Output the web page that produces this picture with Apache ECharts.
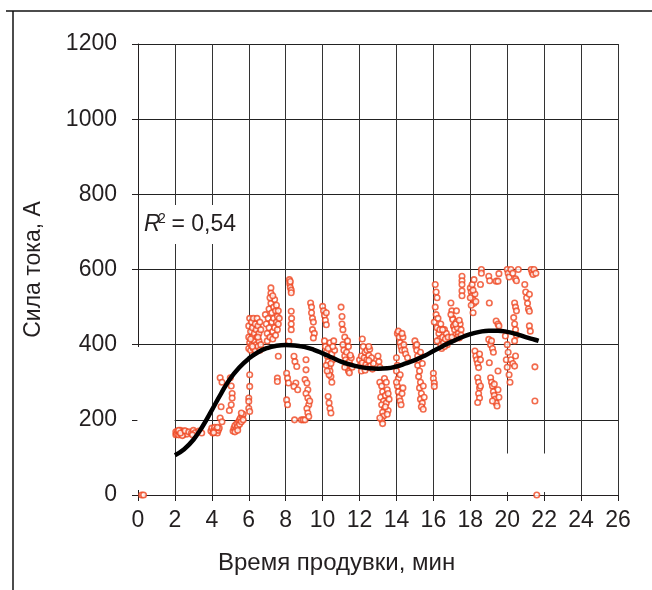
<!DOCTYPE html>
<html><head><meta charset="utf-8">
<script src="https://cdn.jsdelivr.net/npm/echarts@6/dist/echarts.min.js"></script>
<style>html,body{margin:0;padding:0;background:#fff}#c{width:652px;height:590px}</style>
</head><body><div id="c"></div>
<script>
// Axis settings (minutes, amperes)
const xMin = 0, xMax = 26, xStep = 2;
const yMin = 0, yMax = 1200, yStep = 200;
const xTitle = 'Время продувки, мин';
const yTitle = 'Сила тока, А';
const fitLabel = ' = 0,54';

// Polynomial trend line: time (min), current (A)
const trendTime = [2.0,2.5,3.0,3.5,4.0,4.5,5.0,5.5,6.0,6.5,7.0,7.5,8.0,8.5,9.0,9.5,10.0,10.5,11.0,11.5,12.0,12.5,13.0,13.5,14.0,14.5,15.0,15.5,16.0,16.5,17.0,17.5,18.0,18.5,19.0,19.5,20.0,20.5,21.0,21.5,21.7];
const trendCurrent = [106,122,147,183,226,270,310,340,363,380,391,397,399,398,394,387,377,366,355,347,341,337,336,337,342,350,359,370,383,396,408,419,428,434,437,437,434,428,420,413,410];

// Measured points: [time (min), current (A)]
const measuredPoints = [
[0.2,0],[0.3,0],[21.6,0],
[2.05,160],[2.05,168],[2.1,163],[2.15,170],[2.2,160],[2.25,166],[2.3,172],[2.35,161],[2.4,167],[2.45,160],[2.5,170],[2.55,164],[2.6,168],[2.65,162],[2.2,172],[2.4,158],[2.3,165],[2.55,171],
[2.75,168],[2.9,165],[3.0,172],[3.1,166],[3.3,170],[3.45,165],[2.95,160],
[3.95,170],[4.0,178],[4.05,165],[4.1,172],[4.15,180],[4.2,168],[4.25,175],[4.3,165],[4.35,172],[4.4,178],[4.1,166],[4.3,180],
[4.45,312],[4.55,300],[4.5,235],[4.45,205],[4.55,195],
[5.0,312],[5.05,290],[5.1,270],[5.1,258],[5.05,240],[4.95,225],
[5.15,170],[5.2,178],[5.25,185],[5.3,175],[5.35,190],[5.4,182],[5.45,195],[5.5,188],[5.5,200],[5.55,205],[5.6,195],[5.65,210],[5.7,215],[5.7,200],[5.6,218],[5.25,168],[5.4,172],
[6.0,390],[6.0,420],[6.0,450],[6.05,470],[6.05,405],[6.1,385],[6.1,435],[6.15,460],[6.15,398],[6.2,420],[6.2,445],[6.25,390],[6.25,470],[6.3,410],[6.3,430],[6.35,455],[6.35,385],[6.4,400],[6.4,440],[6.45,420],[6.45,470],[6.5,395],[6.5,450],[6.55,410],[6.55,430],[6.6,385],[6.6,460],[6.65,400],[6.65,440],[6.1,415],[6.2,395],[6.5,420],
[6.05,320],[6.05,289],[6.0,258],[6.0,249],[6.0,231],[6.05,222],
[7.2,551],[7.2,537],[6.9,480],[6.95,455],[7.0,430],[7.0,410],[7.05,470],[7.1,495],[7.1,445],[7.15,420],[7.2,510],[7.25,485],[7.25,460],[7.3,435],[7.3,415],[7.35,500],[7.35,470],[7.4,520],[7.4,445],[7.45,490],[7.45,425],[7.5,505],[7.5,460],[7.55,475],[7.55,440],[7.6,490],[7.6,455],[7.65,470],[7.15,525],[7.3,530],
[7.6,369],[7.55,311],[7.55,302],
[8.2,573],[8.22,562],[8.25,552],[8.3,545],[8.3,538],[8.25,568],
[8.3,489],[8.32,470],[8.3,455],[8.3,440],[8.17,409],
[8.05,324],[8.1,311],[8.15,298],[8.05,253],[8.1,240],
[8.45,369],[8.5,355],[8.6,342],[8.55,298],[8.45,289],[8.65,280],
[8.48,200],[8.85,200],[8.95,200],[9.05,200],
[9.1,360],[9.1,333],
[9.05,307],[9.15,298],[9.2,280],[9.1,270],[9.2,258],[9.25,240],[9.15,230],[9.2,218],[9.25,209],[9.3,250],
[9.35,511],[9.4,500],[9.4,485],[9.45,470],[9.5,460],[9.45,440],[9.55,430],[9.5,418],
[10.0,502],[10.05,490],[10.1,478],[10.15,465],[10.2,453],[10.2,485],
[10.1,410],[10.15,395],[10.2,380],[10.25,370],[10.3,355],[10.35,340],[10.4,330],[10.45,315],[10.5,300],[10.2,345],[10.3,390],[10.4,405],[10.5,375],[10.55,360],[10.6,410],[10.65,385],[10.35,320],[10.45,350],[10.25,330],[10.55,395],
[10.3,262],[10.35,245],[10.4,230],[10.45,218],
[11.0,500],[11.05,475],[11.05,455],[11.1,440],[11.2,420],[11.1,400],[11.15,385],[11.2,370],[11.25,360],[11.3,350],[11.35,340],[11.4,330],[11.45,355],[11.5,345],[11.55,365],[11.6,340],[11.3,380],[11.4,395],[11.2,340],[11.5,372],[11.35,410],[11.45,325],
[12.0,360],[12.05,345],[12.1,370],[12.15,352],[12.2,338],[12.25,365],[12.3,380],[12.35,348],[12.4,360],[12.45,340],[12.5,372],[12.55,355],[12.6,345],[12.65,365],[12.7,335],[12.2,395],[12.4,385],[12.55,388],[12.1,330],[12.75,350],[12.3,332],[12.5,358],
[12.15,415],[12.5,395],[13.0,370],[13.05,355],[13.1,340],
[13.1,300],[13.2,290],[13.25,275],[13.15,260],[13.3,250],[13.2,240],[13.35,230],[13.25,220],[13.3,210],[13.2,200],[13.25,190],[13.4,265],[13.45,245],[13.5,280],[13.55,225],[13.6,255],[13.5,215],[13.35,310],[13.45,300],[13.1,205],[13.4,235],[13.55,270],
[14.05,430],[14.15,420],[14.2,405],[14.25,395],[14.3,385],[14.35,420],[14.4,400],[14.45,385],[14.5,375],[14.6,365],[14.1,436],[14.3,430],
[14.0,365],[14.05,345],[14.0,330],[14.1,310],[14.05,290],[14.1,275],[14.15,260],[14.2,250],[14.25,240],[14.3,270],[14.35,285],[14.0,300],[14.2,320],
[15.0,410],[15.05,395],[15.1,385],[15.15,370],[15.2,360],[15.15,345],[15.25,330],[15.2,315],[15.3,300],[15.25,285],[15.35,270],[15.3,255],[15.4,245],[15.35,235],[15.45,228],[15.1,400],[15.3,380],[15.4,350],[15.45,290],[15.5,260],
[16.1,560],[16.15,540],[16.2,525],[16.1,500],[16.15,480],[16.05,460],[16.2,445],[16.3,430],[16.35,415],[16.4,400],[16.45,390],[16.5,420],[16.55,405],[16.6,440],[16.65,415],[16.7,430],[16.75,400],[16.25,470],[16.4,455],[16.6,395],[16.35,440],[16.5,440],[16.2,410],[16.8,420],
[16.0,324],[16.0,310],[16.05,298],[16.05,289],
[16.95,511],[17.0,490],[17.05,470],[17.1,449],
[17.05,467],[17.1,450],[17.15,440],[17.2,425],[17.25,460],[17.3,445],[17.35,430],[17.4,418],[17.45,455],[17.5,440],[17.2,455],[17.3,420],[17.4,465],[17.15,415],[17.5,425],[16.95,480],[17.0,420],[17.25,490],
[17.55,582],[17.55,570],[17.55,560],[17.55,543],[17.55,530],
[18.0,551],[18.05,540],[18.1,530],[18.15,520],[18.2,510],[18.05,505],[18.25,535],[18.0,525],[18.15,545],[18.3,515],[18.1,560],[18.2,573],[18.15,485],
[18.25,383],[18.3,370],[18.35,360],[18.4,350],[18.45,339],[18.5,375],[18.55,360],
[18.4,312],[18.45,300],[18.5,285],[18.45,270],[18.5,258],[18.4,246],[18.55,290],
[18.6,600],[18.6,590],[18.55,560],
[19.0,582],[19.05,570],[19.4,569],[19.5,569],[19.55,589],
[19.03,511],[19.03,352],
[19.0,414],[19.1,400],[19.2,390],[19.25,380],[19.15,410],
[19.1,312],[19.15,300],[19.2,290],[19.25,275],[19.3,265],[19.35,255],[19.4,245],[19.45,237],[19.5,280],[19.55,260],[19.3,295],[19.2,250],[19.5,330],
[19.4,463],[19.5,455],[19.55,450],
[20.0,600],[20.05,590],[20.1,580],[20.2,600],[20.3,590],[20.45,575],[20.5,570],[20.6,600],
[19.9,423],[20.0,400],[20.05,380],[19.95,360],[20.0,340],[20.1,320],[20.15,300],[20.2,360],[20.3,350],[20.4,343],[20.45,370],
[20.35,472],[20.4,455],[20.45,440],[20.5,425],[20.4,410],
[20.4,511],[20.45,500],[20.5,490],
[20.95,560],[21.0,540],[21.05,525],[21.1,510],[21.15,495],[21.2,489],[21.2,534],
[21.2,450],[21.25,436],
[21.3,600],[21.35,592],[21.4,587],
[21.5,341],[21.5,250],
[21.45,600],[21.55,590]
];

const ink = '#231f20';
const font = '"Liberation Sans", Arial, sans-serif';
const chart = echarts.init(document.getElementById('c'), null, {renderer: 'canvas'});
chart.setOption({
  animation: false,
  backgroundColor: '#fff',
  grid: {left: 138, right: 34, top: 44, bottom: 95, containLabel: false},
  xAxis: {
    type: 'value', min: xMin, max: xMax, interval: xStep,
    axisLine: {show: true, onZero: false, lineStyle: {color: ink, width: 1}},
    axisTick: {show: true, inside: false, length: 6, lineStyle: {color: ink}},
    axisLabel: {fontSize: 23, fontFamily: font, color: ink, margin: 14, formatter: v => String(v)},
    splitLine: {show: true, lineStyle: {color: '#333', width: 1}}
  },
  yAxis: {
    type: 'value', min: yMin, max: yMax, interval: yStep,
    name: yTitle, nameLocation: 'middle', nameGap: 93,
    nameTextStyle: {fontSize: 23, fontFamily: font, color: ink},
    axisLine: {show: true, lineStyle: {color: ink, width: 1}},
    axisTick: {show: true, inside: false, length: 6, lineStyle: {color: ink}},
    axisLabel: {fontSize: 23, fontFamily: font, color: ink, margin: 21, formatter: v => String(v)},
    splitLine: {show: true, lineStyle: {color: '#222', width: 1}}
  },
  series: [
    {
      type: 'scatter', data: measuredPoints, symbol: 'circle', symbolSize: 5.5,
      itemStyle: {color: '#ffffff', borderColor: '#ef4620', borderWidth: 1.6},
      z: 2
    },
    {
      type: 'line', data: trendTime.map((t, i) => [t, trendCurrent[i]]),
      smooth: true, showSymbol: false, symbol: 'none',
      lineStyle: {color: '#000', width: 4.5}, z: 3
    }
  ],
  graphic: [
    {type: 'line', shape: {x1: 6, y1: 11, x2: 652, y2: 11}, style: {stroke: '#111', lineWidth: 1.5}},
    {type: 'line', shape: {x1: 13, y1: 11, x2: 13, y2: 590}, style: {stroke: '#111', lineWidth: 1.5}},
    {type: 'rect', shape: {x: 137.4, y: 347, width: 37.2, height: 143}, style: {fill: '#fff'}, z: 1},
    {type: 'rect', shape: {x: 506, y: 453.5, width: 5, height: 38.5}, style: {fill: '#fff'}, z: 1},
    {type: 'rect', shape: {x: 542.8, y: 453.5, width: 5, height: 38.5}, style: {fill: '#fff'}, z: 1},
    {type: 'rect', shape: {x: 140, y: 205, width: 107, height: 39}, style: {fill: '#fff'}, z: 10},
    {type: 'text', x: 144, y: 225, z: 11, style: {text: 'R', fontSize: 23, fontStyle: 'italic', fontFamily: font, fill: ink, verticalAlign: 'middle'}},
    {type: 'text', x: 158, y: 219, z: 11, style: {text: '2', fontSize: 14, fontFamily: font, fill: ink, verticalAlign: 'middle'}},
    {type: 'text', x: 165, y: 225, z: 11, style: {text: fitLabel, fontSize: 23, fontFamily: font, fill: ink, verticalAlign: 'middle'}},
    {type: 'text', x: 218, y: 563, z: 11, style: {text: xTitle, fontSize: 24, fontFamily: font, fill: ink, verticalAlign: 'middle'}}
  ]
});
</script></body></html>
